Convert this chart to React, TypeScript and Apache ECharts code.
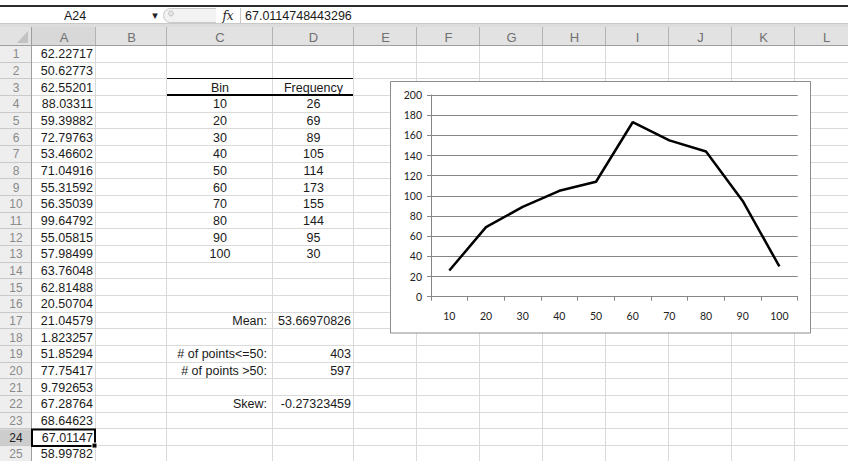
import React, { useEffect, useRef } from "react";
import * as echarts from "echarts";

// ---- data ----
const columnLetters = ["A", "B", "C", "D", "E", "F", "G", "H", "I", "J", "K", "L"];
const columnAValues = [
  "62.22717", "50.62773", "62.55201", "88.03311", "59.39882", "72.79763", "53.46602",
  "71.04916", "55.31592", "56.35039", "99.64792", "55.05815", "57.98499", "63.76048",
  "62.81488", "20.50704", "21.04579", "1.823257", "51.85294", "77.75417", "9.792653",
  "67.28764", "68.64623", "67.01147", "58.99782",
];
const bins = ["10", "20", "30", "40", "50", "60", "70", "80", "90", "100"];
const frequencies = [26, 69, 89, 105, 114, 173, 155, 144, 95, 30];
const statLabels = ["Mean:", "# of points<=50:", "# of points >50:", "Skew:"];
const statValues = ["53.66970826", "403", "597", "-0.27323459"];
const statRows = [17, 19, 20, 22];
const nameBoxText = "A24";
const formulaText = "67.0114748443296";

// ---- layout ----
const W = 848;
const H = 461;
const colEdges = [0, 32, 96, 167, 273, 354, 417, 480, 543, 606, 669, 732, 795, 858];
const HEAD_TOP = 27;
const ROW_TOP = 46;
const ROW_H = 16.67;
const rowTop = (r: number) => ROW_TOP + (r - 1) * ROW_H;
const rowMid = (r: number) => rowTop(r) + ROW_H / 2;
const CELL_FONT = '12.5px "Liberation Sans", Arial, sans-serif';
const TEXT_COLOR = "#1a1a1a";
const SEL_ROW = 24;

function txt(text: string, x: number, y: number, align: string, fill = TEXT_COLOR, font = CELL_FONT, z = 1) {
  return {
    type: "text",
    z,
    silent: true,
    x,
    y,
    style: { text, fill, font, align, textAlign: align, verticalAlign: "middle", textVerticalAlign: "middle" },
  };
}
function ln(x1: number, y1: number, x2: number, y2: number, stroke: string, lineWidth = 1, z = 0) {
  return { type: "line", z, silent: true, shape: { x1, y1, x2, y2 }, style: { stroke, lineWidth } };
}
function rc(x: number, y: number, w: number, h: number, fill: string, stroke?: string, lineWidth = 1, z = 0) {
  return {
    type: "rect",
    z,
    silent: true,
    shape: { x, y, width: w, height: h },
    style: { fill, stroke: stroke || "none", lineWidth },
  };
}

function buildSheet() {
  const els: any[] = [];
  // background
  els.push(rc(0, 0, W, H, "#ffffff"));
  // formula bar
  els.push(ln(0, 6, W, 6, "#2b2b2b", 2));
  els.push(rc(0, 7, W, 16, "#ffffff"));
  els.push(rc(0, 23, W, 4, "#dcdcdc"));
  els.push(ln(0, 23.5, W, 23.5, "#c8c8c8", 1));
  els.push(txt(nameBoxText, 75, 15.5, "center"));
  els.push(txt("▾", 155, 15.5, "center", "#222", '11px "DejaVu Sans", sans-serif'));
  els.push({
    type: "rect",
    z: 0,
    silent: true,
    shape: { x: 163.5, y: 8.5, width: 78, height: 14, r: 7 },
    style: { fill: "#f2f2f2", stroke: "#c8c8c8", lineWidth: 1 },
  });
  els.push({
    type: "circle",
    z: 1,
    silent: true,
    shape: { cx: 171, cy: 13.5, r: 2.5 },
    style: { fill: "#e4e4e4", stroke: "#c4c4c4", lineWidth: 1 },
  });
  els.push(rc(216, 8, 26, 15, "#ffffff", undefined, 1, 1));
  els.push(txt("fx", 228, 15.5, "center", "#222", 'italic 12px "DejaVu Serif", serif', 2));
  els.push(ln(240.5, 8, 240.5, 23, "#c8c8c8", 1, 2));
  els.push(txt(formulaText, 245, 15.5, "left"));

  // header row
  els.push(rc(0, HEAD_TOP, W, ROW_TOP - HEAD_TOP, "#e2e2e2"));
  els.push(rc(colEdges[1], HEAD_TOP, colEdges[2] - colEdges[1], ROW_TOP - HEAD_TOP, "#d8d8d8"));
  // row header column
  els.push(rc(0, ROW_TOP, colEdges[1], H - ROW_TOP, "#eeeeee"));
  els.push(rc(0, rowTop(SEL_ROW), colEdges[1], ROW_H, "#cdcdcd"));

  // cell gridlines
  for (let r = 1; r <= 25; r++) {
    const y = Math.round(rowTop(r) + ROW_H) - 0.5;
    els.push(ln(colEdges[1], y, W, y, "#dadada", 1));
    els.push(ln(0, y, colEdges[1], y, "#c9c9c9", 1));
  }
  for (let c = 2; c < colEdges.length; c++) {
    const x = colEdges[c] - 0.5;
    els.push(ln(x, ROW_TOP, x, H, "#dadada", 1));
  }
  // header separators
  for (let c = 1; c < colEdges.length; c++) {
    const x = colEdges[c] - 0.5;
    els.push(ln(x, HEAD_TOP, x, ROW_TOP, "#b3b3b3", 1));
  }
  els.push(ln(0, ROW_TOP - 0.5, W, ROW_TOP - 0.5, "#9e9e9e", 1));
  els.push(ln(colEdges[1] - 0.5, HEAD_TOP, colEdges[1] - 0.5, H, "#9e9e9e", 1));
  // corner triangle
  els.push({
    type: "polygon",
    z: 1,
    silent: true,
    shape: { points: [[28, 31], [28, 43], [17, 43]] },
    style: { fill: "#c2c2c2" },
  });

  // column letters
  columnLetters.forEach((l, i) => {
    const x0 = colEdges[i + 1];
    const x1 = colEdges[i + 2];
    els.push(txt(l, (x0 + x1) / 2, (HEAD_TOP + ROW_TOP) / 2 + 0.5, "center", "#707070", '13px "Liberation Sans", Arial, sans-serif'));
  });
  // row numbers + column A
  for (let r = 1; r <= 25; r++) {
    els.push(
      txt(String(r), 16, rowMid(r), "center", r === SEL_ROW ? "#222" : "#8a8a8a", '12px "Liberation Sans", Arial, sans-serif')
    );
    els.push(txt(columnAValues[r - 1], colEdges[2] - 3, rowMid(r), "right"));
  }

  // bin table
  const cMid = (colEdges[3] + colEdges[4]) / 2;
  const dMid = (colEdges[4] + colEdges[5]) / 2;
  els.push(ln(colEdges[3], Math.round(rowTop(3)) - 0.5, colEdges[5] - 1, Math.round(rowTop(3)) - 0.5, "#000", 1, 1));
  els.push(ln(colEdges[3], Math.round(rowTop(4)) - 1, colEdges[5] - 1, Math.round(rowTop(4)) - 1, "#000", 2, 1));
  els.push(txt("Bin", cMid, rowMid(3), "center"));
  els.push(txt("Frequency", dMid, rowMid(3), "center"));
  bins.forEach((b, i) => {
    els.push(txt(b, cMid, rowMid(4 + i), "center"));
    els.push(txt(String(frequencies[i]), dMid, rowMid(4 + i), "center"));
  });
  // stats
  statLabels.forEach((s, i) => {
    els.push(txt(s, colEdges[4] - 6, rowMid(statRows[i]), "right"));
    els.push(txt(statValues[i], colEdges[5] - 3, rowMid(statRows[i]), "right"));
  });

  // selected cell A24
  els.push({
    type: "rect",
    z: 2,
    silent: true,
    shape: { x: colEdges[1], y: rowTop(SEL_ROW), width: colEdges[2] - colEdges[1] - 1, height: ROW_H },
    style: { fill: "none", stroke: "#000", lineWidth: 2 },
  });
  els.push(rc(colEdges[2] - 4, rowTop(SEL_ROW) + ROW_H - 3, 5, 5, "#000", "#fff", 1, 3));

  // chart area box
  els.push(rc(390.5, 81.5, 420, 251.5, "#ffffff", "#8c8c8c", 1, 4));
  return els;
}

export default function App() {
  const ref = useRef<HTMLDivElement>(null);
  useEffect(() => {
    if (!ref.current) return;
    const chart = echarts.init(ref.current, undefined, { renderer: "svg" });
    const chartFont = "Lato, Calibri, sans-serif";
    chart.setOption({
      animation: false,
      backgroundColor: "#ffffff",
      graphic: { elements: buildSheet() },
      grid: { left: 431, top: 95, width: 366.7, height: 201.7, containLabel: false, z: 5 },
      xAxis: {
        type: "category",
        data: bins,
        boundaryGap: true,
        z: 6,
        axisLine: { show: true, lineStyle: { color: "#868686", width: 1 } },
        axisTick: { show: true, length: 4, lineStyle: { color: "#868686" } },
        axisLabel: { margin: 14, color: "#222", fontSize: 10.5, fontFamily: chartFont },
        splitLine: { show: false },
      },
      yAxis: {
        type: "value",
        min: 0,
        max: 200,
        interval: 20,
        z: 6,
        axisLine: { show: true, lineStyle: { color: "#868686", width: 1 } },
        axisTick: { show: true, length: 4, lineStyle: { color: "#868686" } },
        axisLabel: { margin: 9, color: "#222", fontSize: 10.5, fontFamily: chartFont },
        splitLine: { show: true, lineStyle: { color: "#868686", width: 1 } },
      },
      series: [
        {
          type: "line",
          data: frequencies,
          z: 7,
          showSymbol: false,
          symbol: "none",
          smooth: false,
          lineStyle: { color: "#000", width: 2.5 },
          itemStyle: { color: "#000" },
        },
      ],
    });
    return () => chart.dispose();
  }, []);
  return (
    <div
      ref={ref}
      style={{ position: "fixed", left: 0, top: 0, width: W, height: H, overflow: "hidden" }}
    />
  );
}
